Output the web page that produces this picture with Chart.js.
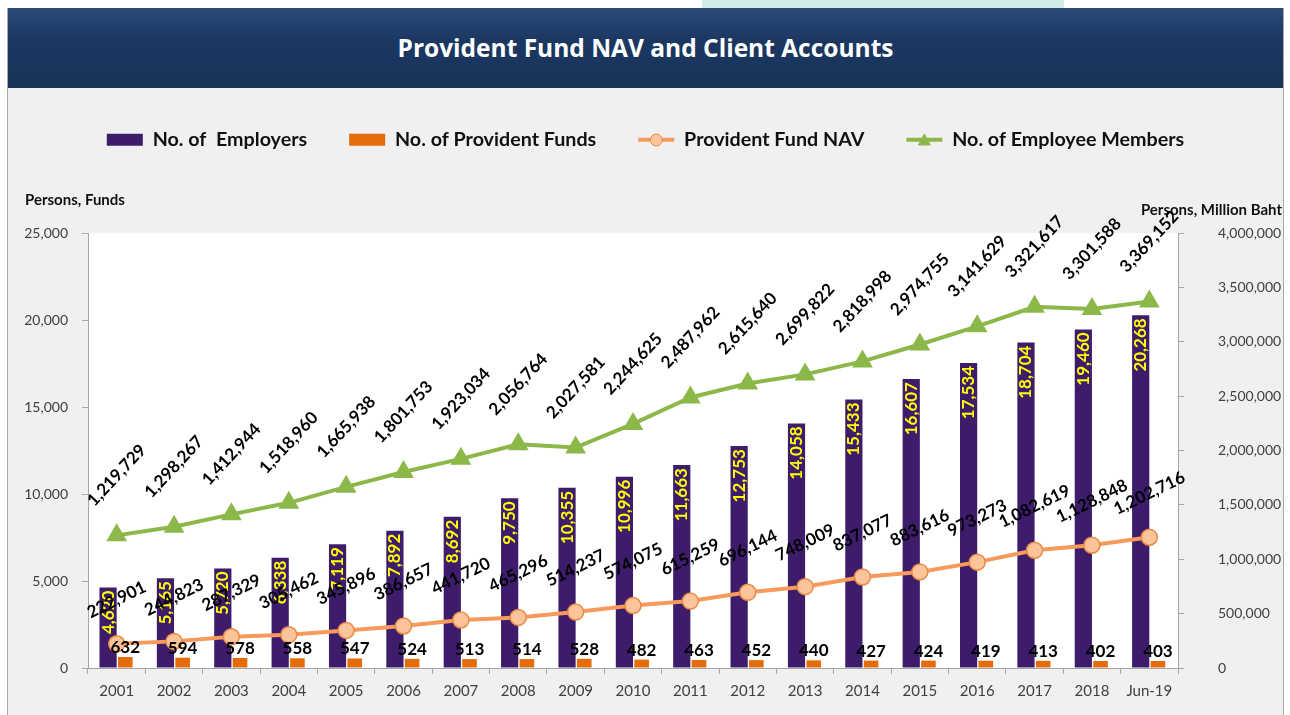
<!DOCTYPE html>
<html>
<head>
<meta charset="utf-8">
<script src="https://cdn.jsdelivr.net/npm/chart.js@4.4.1/dist/chart.umd.min.js"></script>
<style>
body { margin: 0; background: #fff; width: 1290px; height: 715px; overflow: hidden; position: relative; font-family: Lato, "Open Sans", sans-serif; }
#tab { position: absolute; left: 702px; top: 0; width: 362px; height: 8px; background: #d3ebe9; }
#frame { position: absolute; left: 7px; top: 8px; width: 1275px; height: 707px; background: #f0f0f0; border-left: 1px solid #a9a9a9; border-right: 1px solid #a9a9a9; }
#header { height: 80px; background: linear-gradient(#2a4a78, #1b3862 40%, #183358); color: #fff; font: bold 24.5px "Open Sans", sans-serif; text-align: center; line-height: 80px; }
canvas { display: block; }
</style>
</head>
<body>
<div id="tab"></div>
<div id="frame">
  <div id="header">Provident Fund NAV and Client Accounts</div>
  <canvas id="fundChart" width="1275" height="627"></canvas>
</div>
<script>
// Categories and series
const years = ['2001', '2002', '2003', '2004', '2005', '2006', '2007', '2008', '2009', '2010',
  '2011', '2012', '2013', '2014', '2015', '2016', '2017', '2018', 'Jun-19'];
const employers = [4620, 5165, 5720, 6338, 7119, 7892, 8692, 9750, 10355, 10996,
  11663, 12753, 14058, 15433, 16607, 17534, 18704, 19460, 20268];
const funds = [632, 594, 578, 558, 547, 524, 513, 514, 528, 482,
  463, 452, 440, 427, 424, 419, 413, 402, 403];
const nav = [222901, 244823, 287329, 305462, 345896, 386657, 441720, 465296, 514237, 574075,
  615259, 696144, 748009, 837077, 883616, 973273, 1082619, 1128848, 1202716];
const members = [1219729, 1298267, 1412944, 1518960, 1665938, 1801753, 1923034, 2056764, 2027581, 2244625,
  2487962, 2615640, 2699822, 2818998, 2974755, 3141629, 3321617, 3301588, 3369152];

// Axis ranges
const leftMax = 25000, leftStep = 5000;
const rightMax = 4000000, rightStep = 500000;

const fmt = v => v.toLocaleString('en-US');
const FONT = 'Lato, "Open Sans", sans-serif';

// White plot background, axis captions, gap under legend
const backdrop = {
  id: 'backdrop',
  beforeLayout(chart) {
    const legend = chart.legend;
    if (legend && !legend._patched) {
      const fit = legend.fit;
      legend.fit = function () { fit.call(this); this.height = 145; };
      legend._patched = true;
    }
  },
  beforeDraw(chart) {
    const { ctx, chartArea: a } = chart;
    ctx.save();
    ctx.fillStyle = '#ffffff';
    ctx.fillRect(a.left, a.top, a.right - a.left, a.bottom - a.top);
    ctx.fillStyle = '#111';
    ctx.font = 'bold 15px ' + FONT;
    ctx.textBaseline = 'middle';
    ctx.textAlign = 'left';
    ctx.fillText('Persons, Funds', 17, 112);
    ctx.textAlign = 'right';
    ctx.fillText('Persons, Million Baht', 1274, 122);
    ctx.restore();
  }
};

// Value labels and legend markers
const labels = {
  id: 'labels',
  afterDraw(chart) {
    const ctx = chart.ctx;
    ctx.save();
    // employers: yellow, vertical, inside bar
    chart.getDatasetMeta(0).data.forEach((el, i) => {
      ctx.save();
      ctx.translate(el.x, el.y + 3);
      ctx.rotate(-Math.PI / 2);
      ctx.font = 'bold 17px ' + FONT;
      ctx.fillStyle = '#ffff00';
      ctx.textAlign = 'right';
      ctx.textBaseline = 'middle';
      ctx.fillText(fmt(employers[i]), 0, 0);
      ctx.restore();
    });
    // funds: black above small bar
    chart.getDatasetMeta(1).data.forEach((el, i) => {
      ctx.font = 'bold 17px ' + FONT;
      ctx.fillStyle = '#000';
      ctx.textAlign = 'center';
      ctx.textBaseline = 'bottom';
      ctx.fillText(fmt(funds[i]), el.x, el.y - 1);
    });
    // NAV
    chart.getDatasetMeta(2).data.forEach((el, i) => {
      ctx.save();
      ctx.translate(el.x, el.y - 44);
      ctx.rotate(-26 * Math.PI / 180);
      ctx.font = 'bold 17px ' + FONT;
      ctx.fillStyle = '#000';
      ctx.textAlign = 'center';
      ctx.textBaseline = 'middle';
      ctx.fillText(fmt(nav[i]), 0, 0);
      ctx.restore();
    });
    // members
    chart.getDatasetMeta(3).data.forEach((el, i) => {
      ctx.save();
      ctx.translate(el.x, el.y - 60);
      ctx.rotate(-47 * Math.PI / 180);
      ctx.font = 'bold 17px ' + FONT;
      ctx.fillStyle = '#000';
      ctx.textAlign = 'center';
      ctx.textBaseline = 'middle';
      ctx.fillText(fmt(members[i]), 0, 0);
      ctx.restore();
    });
    // markers on line legend items
    const boxes = chart.legend.legendHitBoxes;
    const items = chart.legend.legendItems;
    items.forEach((it, k) => {
      const ds = chart.data.datasets[it.datasetIndex];
      if (ds.type !== 'line') return;
      const b = boxes[k];
      const cx = b.left + 18, cy = b.top + 10;
      ctx.fillStyle = ds.pointBackgroundColor;
      ctx.strokeStyle = ds.pointBorderColor;
      ctx.lineWidth = 1;
      ctx.beginPath();
      if (ds.pointStyle === 'circle') {
        ctx.arc(cx, cy, 6, 0, Math.PI * 2);
      } else {
        ctx.moveTo(cx, cy - 6);
        ctx.lineTo(cx + 6, cy + 5);
        ctx.lineTo(cx - 6, cy + 5);
        ctx.closePath();
      }
      ctx.fill();
      ctx.stroke();
    });
    ctx.restore();
  }
};

const ctx = document.getElementById('fundChart').getContext('2d');
new Chart(ctx, {
  type: 'bar',
  data: {
    labels: years,
    datasets: [
      {
        label: 'No. of  Employers',
        data: employers,
        backgroundColor: '#3d1c6c',
        yAxisID: 'y',
        order: 2,
        barPercentage: 1,
        categoryPercentage: 0.6
      },
      {
        label: 'No. of Provident Funds',
        data: funds,
        backgroundColor: '#e46c0a',
        yAxisID: 'y',
        order: 2,
        barPercentage: 0.85,
        categoryPercentage: 0.6
      },
      {
        type: 'line',
        label: 'Provident Fund NAV',
        data: nav,
        borderColor: '#f79a5c',
        borderWidth: 4,
        pointStyle: 'circle',
        pointRadius: 8,
        pointBackgroundColor: '#fbc49b',
        pointBorderColor: '#ec8a45',
        pointBorderWidth: 1.5,
        yAxisID: 'y1',
        order: 1,
        tension: 0
      },
      {
        type: 'line',
        label: 'No. of Employee Members',
        data: members,
        borderColor: '#8cb84a',
        borderWidth: 4,
        pointStyle: 'triangle',
        pointRadius: 8,
        pointBackgroundColor: '#8cb84a',
        pointBorderColor: '#8cb84a',
        yAxisID: 'y1',
        order: 1,
        tension: 0
      }
    ]
  },
  options: {
    responsive: false,
    animation: false,
    layout: { padding: { top: 0, left: 0, right: 0, bottom: 7 } },
    plugins: {
      tooltip: { enabled: false },
      legend: {
        position: 'top',
        labels: {
          font: { family: FONT, size: 19.7, weight: 'bold' },
          color: '#111',
          padding: 42,
          boxHeight: 12,
          usePointStyle: true,
          pointStyleWidth: 36,
          sort: (a, b) => a.datasetIndex - b.datasetIndex,
          generateLabels(chart) {
            const items = Chart.defaults.plugins.legend.labels.generateLabels(chart);
            return items.map(it => {
              const ds = chart.data.datasets[it.datasetIndex];
              if (ds.type === 'line') {
                it.pointStyle = 'line';
                it.strokeStyle = ds.borderColor;
                it.lineWidth = 4;
              } else {
                it.pointStyle = 'rect';
                it.fillStyle = ds.backgroundColor;
                it.strokeStyle = ds.backgroundColor;
                it.lineWidth = 0;
              }
              return it;
            });
          }
        }
      }
    },
    scales: {
      x: {
        grid: { display: true, drawOnChartArea: false, tickLength: 6, color: '#a6a6a6', offset: true },
        border: { color: '#a6a6a6' },
        ticks: { font: { family: FONT, size: 15 }, color: '#404040', padding: 8, maxRotation: 0 }
      },
      y: {
        position: 'left',
        min: 0,
        max: leftMax,
        afterFit: s => { s.width = 80; },
        grid: { display: true, drawOnChartArea: false, tickLength: 6, color: '#a6a6a6' },
        border: { color: '#a6a6a6' },
        ticks: { stepSize: leftStep, font: { family: FONT, size: 14 }, color: '#404040', padding: 14, callback: v => fmt(v) }
      },
      y1: {
        position: 'right',
        min: 0,
        max: rightMax,
        afterFit: s => { s.width = 105; },
        grid: { display: true, drawOnChartArea: false, tickLength: 6, color: '#a6a6a6' },
        border: { color: '#a6a6a6' },
        ticks: { stepSize: rightStep, font: { family: FONT, size: 14 }, color: '#404040', padding: 34, callback: v => fmt(v) }
      }
    }
  },
  plugins: [backdrop, labels]
});
</script>
</body>
</html>
